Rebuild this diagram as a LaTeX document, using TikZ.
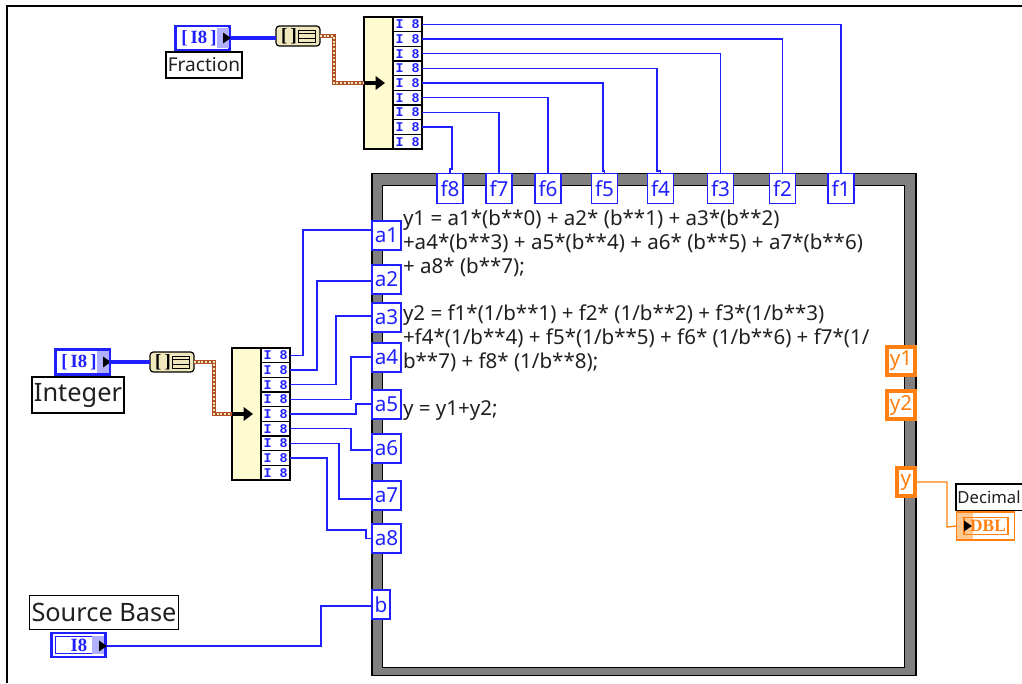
\documentclass[tikz,border=0pt]{standalone}
\usepackage{fontspec}
\setmainfont{Noto Sans}
\newfontfamily\slabfont{Liberation Serif}
\newfontfamily\cellfont{Liberation Mono}
\usepackage{tikz}
\usetikzlibrary{positioning,arrows.meta,calc,shapes.geometric}
\definecolor{wireBlue}{HTML}{2020FF}
\definecolor{shadeBlue}{HTML}{B0B0FF}
\definecolor{wireOrange}{HTML}{FF8010}
\definecolor{shadeOrange}{HTML}{FFC890}
\definecolor{wireBrown}{HTML}{B0502A}
\definecolor{bodyCream}{HTML}{FFFBD0}
\definecolor{bundleTan}{HTML}{F0E8BC}
\definecolor{frameGray}{HTML}{808080}
\definecolor{textGray}{HTML}{202020}

\begin{document}
\begin{tikzpicture}[
  x=0.75pt, y=-0.75pt,
  every node/.style={outer sep=0pt, inner sep=0pt},
  wire/.style={draw=wireBlue, line width=1.2pt},
  thickwire/.style={draw=wireBlue, line width=2.6pt},
  orangewire/.style={draw=wireOrange, line width=1pt},
  brownwire/.style={draw=wireBrown, line width=3.4pt,
                    postaction={draw=bundleTan, line width=1.1pt, dash pattern=on 1.4pt off 1.4pt}},
  flowtip/.style={-{Triangle[length=7pt,width=10pt]}, line width=3pt},
  term/.style={rectangle, draw=wireBlue, fill=white, line width=0.9pt, text=wireBlue,
               minimum width=21.75pt, minimum height=21.75pt,
               font=\fontsize{15.5}{17}\selectfont},
  fterm/.style={term, minimum width=19.5pt, minimum height=22pt},
  oterm/.style={term, draw=wireOrange, text=wireOrange, line width=2.6pt,
                minimum width=21pt, minimum height=21pt},
  caption/.style={rectangle, draw=black, fill=white, line width=0.8pt, text=textGray},
  control/.style={rectangle, draw=wireBlue, fill=white, line width=2.2pt, text=wireBlue,
                  font=\slabfont\bfseries\fontsize{14}{15}\selectfont},
  shade/.style={rectangle, fill=#1, minimum height=15pt, minimum width=10pt},
  tip/.style={isosceles triangle, isosceles triangle apex angle=70, fill=black,
              minimum height=4.5pt, minimum width=8pt},
  body/.style={rectangle, draw=black, fill=bodyCream, line width=0.9pt,
               minimum width=21.75pt, minimum height=99pt},
  rowcell/.style={rectangle, draw=black, fill=white, line width=0.8pt, text=wireBlue,
                  minimum width=21.75pt, minimum height=11pt,
                  font=\cellfont\bfseries\fontsize{10}{10}\selectfont},
  bundle/.style={rectangle, rounded corners=2.5pt, draw=black, fill=bundleTan, line width=0.9pt,
                 minimum width=33pt, minimum height=15pt},
  brackets/.style={font=\slabfont\bfseries\fontsize{14}{15}\selectfont},
  stack/.style={rectangle, draw=black, fill=bundleTan, line width=0.7pt,
                minimum width=13pt, minimum height=9pt},
  code/.style={anchor=north west, align=left, text=textGray,
               font=\fontsize{15.4}{18}\selectfont}
]
\useasboundingbox (0,0) rectangle (1022,683);

% ===== Sheet edge =====
\draw[line width=1pt] (7,683) -- (7,6) -- (1022,6);

% ===== Structure frame =====
\node[rectangle, draw=black, fill=frameGray, line width=0.8pt,
      minimum width=408pt, minimum height=377pt] (frame) at (644,424.5) {};
\node[rectangle, draw=black, fill=white, line width=0.8pt,
      minimum width=391pt, minimum height=362pt] (inner) at (643.5,426.5) {};

% ===== Fraction input =====
\node[control, minimum width=41pt, minimum height=18pt] (fctl) at (202.5,38) {};
\node[shade=shadeBlue, minimum height=15pt, minimum width=9pt] (fshade) at (222.5,38) {};
\node[control, draw=none, fill=none] (ftext) at (199,38) {[\,I8\,]};
\node[tip] (ftip) at (226,38) {};
\node[caption, minimum width=57pt, minimum height=19.5pt,
      font=\fontsize{14.3}{16}\selectfont] (flabel) at (204,65) {Fraction};
\node[bundle] (fbun) at (298,36) {};
\node[brackets] (fbrk) at (289,36) {[\,]};
\node[stack] (fstack) at (307,36) {};
\draw[line width=0.6pt] (fstack.west |- 0,33.5) -- (fstack.east |- 0,33.5);
\draw[line width=0.6pt] (fstack.west |- 0,38.5) -- (fstack.east |- 0,38.5);
\node[body] (fbody) at (378.5,83) {};
\node[rowcell, anchor=north west] (fr1) at (fbody.north east) {I 8};
\node[rowcell, below=0pt of fr1] (fr2) {I 8};
\node[rowcell, below=0pt of fr2] (fr3) {I 8};
\node[rowcell, below=0pt of fr3] (fr4) {I 8};
\node[rowcell, below=0pt of fr4] (fr5) {I 8};
\node[rowcell, below=0pt of fr5] (fr6) {I 8};
\node[rowcell, below=0pt of fr6] (fr7) {I 8};
\node[rowcell, below=0pt of fr7] (fr8) {I 8};
\node[rowcell, below=0pt of fr8] (fr9) {I 8};
\coordinate (farrow) at (385,83);

% ===== Integer input =====
\node[control, minimum width=40pt, minimum height=19pt] (ictl) at (82.5,362) {};
\node[shade=shadeBlue, minimum height=16pt, minimum width=9pt] (ishade) at (102.5,362) {};
\node[control, draw=none, fill=none] (itext) at (79,362) {[\,I8\,]};
\node[tip] (itip) at (106,362) {};
\node[caption, minimum width=69pt, minimum height=27pt,
      font=\fontsize{19}{21}\selectfont] (ilabel) at (78,395) {Integer};
\node[bundle] (ibun) at (172,362) {};
\node[brackets] (ibrk) at (163,362) {[\,]};
\node[stack] (istack) at (181,362) {};
\draw[line width=0.6pt] (istack.west |- 0,359.5) -- (istack.east |- 0,359.5);
\draw[line width=0.6pt] (istack.west |- 0,364.5) -- (istack.east |- 0,364.5);
\node[body] (ibody) at (246.5,414) {};
\node[rowcell, anchor=north west] (ir1) at (ibody.north east) {I 8};
\node[rowcell, below=0pt of ir1] (ir2) {I 8};
\node[rowcell, below=0pt of ir2] (ir3) {I 8};
\node[rowcell, below=0pt of ir3] (ir4) {I 8};
\node[rowcell, below=0pt of ir4] (ir5) {I 8};
\node[rowcell, below=0pt of ir5] (ir6) {I 8};
\node[rowcell, below=0pt of ir6] (ir7) {I 8};
\node[rowcell, below=0pt of ir7] (ir8) {I 8};
\node[rowcell, below=0pt of ir8] (ir9) {I 8};
\coordinate (iarrow) at (253,414);

% ===== Source base input =====
\node[caption, minimum width=112pt, minimum height=26pt,
      font=\fontsize{19}{21}\selectfont] (slabel) at (104,612.5) {Source Base};
\node[control, minimum width=40pt, minimum height=18pt] (sctl) at (78.5,645) {};
\node[rectangle, draw=wireBlue, line width=0.6pt, minimum width=34pt, minimum height=13pt] (sbox) at (78.5,645) {};
\node[shade=shadeBlue, minimum height=13pt, minimum width=9pt] (sshade) at (98,645) {};
\node[control, draw=none, fill=none] (stext) at (79,645) {I8};
\node[tip] (stip) at (102,646) {};

% ===== Terminals on the frame =====
\node[fterm] (f8) at (450,188.5) {f8};
\node[fterm] (f7) at (499,188.5) {f7};
\node[fterm] (f6) at (548,188.5) {f6};
\node[fterm] (f5) at (604.5,188.5) {f5};
\node[fterm] (f4) at (660.5,188.5) {f4};
\node[fterm] (f3) at (720.5,188.5) {f3};
\node[fterm] (f2) at (782.5,188.5) {f2};
\node[fterm] (f1) at (841,188.5) {f1};

\node[term] (a1) at (386.5,235.5) {a1};
\node[term] (a2) at (386.5,279.5) {a2};
\node[term] (a3) at (386.5,317.5) {a3};
\node[term] (a4) at (386.5,357.5) {a4};
\node[term] (a5) at (386.5,404.5) {a5};
\node[term] (a6) at (386.5,448.5) {a6};
\node[term] (a7) at (386.5,495.5) {a7};
\node[term] (a8) at (386.5,538.5) {a8};
\node[term, minimum width=13.5pt] (b) at (381,604.5) {b};

\node[oterm] (y1) at (901,361) {y1};
\node[oterm] (y2) at (901,405) {y2};
\node[oterm, minimum width=13.5pt] (y) at (906,482) {y};

% ===== Decimal output =====
\node[caption, draw=none, anchor=north west, minimum width=49.5pt, minimum height=20pt,
      font=\fontsize{12.5}{14}\selectfont] (dlabel) at (956,484) {Decimal};
\draw[line width=0.8pt] (dlabel.north east) -- (dlabel.north west) -- (dlabel.south west) -- (dlabel.south east);
\node[rectangle, draw=wireOrange, fill=white, line width=0.9pt,
      minimum width=43pt, minimum height=21pt] (dctl) at (985.5,526) {};
\node[shade=shadeOrange, minimum height=20pt, minimum width=12pt] (dshade) at (965,526) {};
\node[rectangle, draw=wireOrange, line width=0.8pt, minimum width=33pt, minimum height=13pt] (dbox) at (986,526) {};
\node[text=wireOrange, font=\slabfont\bfseries\fontsize{13}{14}\selectfont] (dtext) at (988,526) {DBL};
\node[tip] (dtip) at (967,526) {};

% ===== Formula node text =====
\node[code] (eq1) at (403,210)
  {y1 = a1*(b**0) + a2* (b**1) + a3*(b**2)\\
   +a4*(b**3) + a5*(b**4) + a6* (b**5) + a7*(b**6)\\
   + a8* (b**7);};
\node[code] (eq2) at (403,305)
  {y2 = f1*(1/b**1) + f2* (1/b**2) + f3*(1/b**3)\\
   +f4*(1/b**4) + f5*(1/b**5) + f6* (1/b**6) + f7*(1/\\
   b**7) + f8* (1/b**8);};
\node[code] (eq3) at (403,401) {y = y1+y2;};

% ===== Wires: controls to bundles =====
\draw[thickwire] (fctl.east) -- (fbun.west |- fctl.east);
\draw[thickwire] (ictl.east) -- (ibun.west);
\draw[brownwire] (fbun.east) -- (334,36) |- (fbody.west);
\draw[brownwire] (ibun.east) -- (214,362) |- (ibody.west);
\draw[flowtip] (fbody.west) -- (farrow);
\draw[flowtip] (ibody.west) -- (iarrow);

% ===== Wires: fraction cells to f terminals =====
\draw[wire] (fr1.east) -| (f1.north);
\draw[wire] (fr2.east) -| (f2.north);
\draw[wire] (fr3.east) -| (f3.north);
\draw[wire] (fr4.east) -| (657,171) -| (f4.north);
\draw[wire] (fr5.east) -| (603,171) -| (f5.north);
\draw[wire] (fr6.east) -| (f6.north);
\draw[wire] (fr7.east) -| (f7.north);
\draw[wire] (fr8.east) -| (452,169) -| (f8.north);

% ===== Wires: integer cells to a terminals =====
\draw[wire] (ir1.east) -| (303,230) -- (a1.west |- 0,230);
\draw[wire] (ir2.east) -| (317,281) -- (a2.west |- 0,281);
\draw[wire] (ir3.east) -| (336,316) -- (a3.west |- 0,316);
\draw[wire] (ir4.east) -| (351,357) -- (a4.west |- 0,357);
\draw[wire] (ir5.east) -| (356,404) -- (a5.west |- 0,404);
\draw[wire] (ir6.east) -| (351,450) -- (a6.west |- 0,450);
\draw[wire] (ir7.east) -| (339,499) -- (a7.west |- 0,499);
\draw[wire] (ir8.east) -| (327,530) -- (366,530) |- (a8.west);

% ===== Remaining wires =====
\draw[wire] (stip.east) -| (321,606) -- (b.west |- 0,606);
\draw[orangewire] (y.east) -| (947,527) -- (dctl.west);

\end{tikzpicture}
\end{document}
